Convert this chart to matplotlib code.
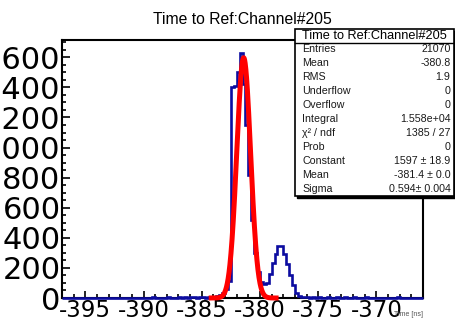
import numpy as np
import matplotlib
matplotlib.use("Agg")
import matplotlib.pyplot as plt
from matplotlib.patches import Rectangle
from matplotlib.lines import Line2D
from matplotlib.ticker import MultipleLocator

plt.rcParams['axes.unicode_minus'] = False

# ---------------- data ----------------
title = "Time to Ref:Channel#205"
x_label = "Time [ns]"
bin_start = -397.0
bin_width = 0.25
# blue histogram bin contents (124 bins from -397 to -366)
counts = [0, 0, 0, 0, 0, 0, 0, 0, 0, 0,
          0, 0, 0, 0, 0, 0, 0, 0, 0, 0,
          0, 0, 0, 0, 0, 0, 0, 3, 0, 0,
          2, 4, 0, 3, 0, 0, 5, 0, 3, 0,
          4, 2, 6, 0, 4, 5, 0, 6, 4, 0,
          5, 8, 5, 12, 20, 35, 60, 110, 1400, 1410,
          1500, 1630, 1420, 1150, 820, 520, 300, 170, 105, 95,
          100, 160, 230, 295, 345, 348, 290, 225, 150, 85,
          35, 12, 5, 8, 4, 3, 5, 2, 6, 3,
          0, 4, 2, 3, 5, 0, 3, 4, 0, 2,
          5, 0, 3, 0, 4, 2, 0, 3, 0, 0,
          2, 0, 3, 0, 0, 4, 0, 2, 0, 3,
          0, 0, 0, 0]
# Gaussian fit parameters (from stat box)
fit_const = 1597.0
fit_mean = -381.4
fit_sigma = 0.594
fit_range = (-384.4, -378.4)

stat_labels = ["Entries", "Mean", "RMS", "Underflow", "Overflow", "Integral",
               "χ² / ndf", "Prob", "Constant", "Mean", "Sigma"]
stat_values = ["21070", "-380.8", "1.9", "0", "0", "1.558e+04",
               "1385 / 27", "0", "1597 ± 18.9", "-381.4 ± 0.0", "0.594± 0.004"]

xlim = (-397.0, -366.0)
ylim = (0, 1715)

# ---------------- figure ----------------
W, H = 456, 322
fig = plt.figure(figsize=(W/100, H/100), dpi=100)
ax = fig.add_axes([62/W, 1-298/H, (423-62)/W, (298-40)/H])

edges = bin_start + bin_width*np.arange(len(counts)+1)
blue = '#0c0ca0'
ax.stairs(counts, edges, color=blue, lw=1.9, zorder=3, clip_on=False, baseline=None)

xf = np.linspace(fit_range[0], fit_range[1], 400)
yf = fit_const*np.exp(-0.5*((xf-fit_mean)/fit_sigma)**2)
ax.plot(xf, yf, color='#ff0000', lw=3.6, zorder=4, clip_on=False, solid_capstyle='butt')

ax.set_xlim(*xlim)
ax.set_ylim(*ylim)

for s in ax.spines.values():
    s.set_linewidth(1.5)
    s.set_color('black')
    s.set_zorder(2)

ax.xaxis.set_major_locator(MultipleLocator(5))
ax.xaxis.set_minor_locator(MultipleLocator(1))
ax.yaxis.set_major_locator(MultipleLocator(200))
ax.yaxis.set_minor_locator(MultipleLocator(50))
ax.tick_params(axis='both', which='both', direction='in', top=False, right=False, width=1.2)
ax.tick_params(axis='x', which='major', length=5, pad=1.0, labelsize=16.5)
ax.tick_params(axis='x', which='minor', length=2.6)
ax.tick_params(axis='y', which='major', length=6, pad=1.0, labelsize=22)
ax.tick_params(axis='y', which='minor', length=3)

fig.text(423/W, 1-316/H, x_label, ha='right', va='baseline', fontsize=5,
         color='#555555', family=['Liberation Sans', 'DejaVu Sans'])

fig.text(242/W, 1-19/H, title, ha='center', va='center', fontsize=11.3,
         family=['Liberation Sans', 'DejaVu Sans'])

# ---------------- stat box ----------------
bx0, bx1, by0, by1 = 295.5, 454.0, 29.0, 196.0
shadow = Rectangle(((bx0+2)/W, 1-(by1+2)/H), (bx1-bx0)/W, (by1-by0)/H,
                   transform=fig.transFigure, facecolor='black', edgecolor='black',
                   zorder=9)
box = Rectangle((bx0/W, 1-by1/H), (bx1-bx0)/W, (by1-by0)/H,
                transform=fig.transFigure, facecolor='white', edgecolor='black',
                lw=1.2, zorder=10)
fig.add_artist(shadow)
fig.add_artist(box)
fig.add_artist(Line2D([bx0/W, bx1/W], [1-42.5/H, 1-42.5/H], transform=fig.transFigure,
                      color='black', lw=1.0, zorder=11))
fam = ['Liberation Sans', 'DejaVu Sans']
fig.text((bx0+bx1)/2/W, 1-36/H, title, ha='center', va='center', fontsize=9.2,
         family=fam, zorder=12)
for i, (lab, val) in enumerate(zip(stat_labels, stat_values)):
    yc = 1-(49.3+14*i)/H
    fig.text(302.5/W, yc, lab, ha='left', va='center', fontsize=7.7, family=fam,
             color='#1a1a1a', zorder=12)
    fig.text(450.5/W, yc, val, ha='right', va='center', fontsize=7.7, family=fam,
             color='#1a1a1a', zorder=12)

fig.savefig('out.png', dpi=100)
